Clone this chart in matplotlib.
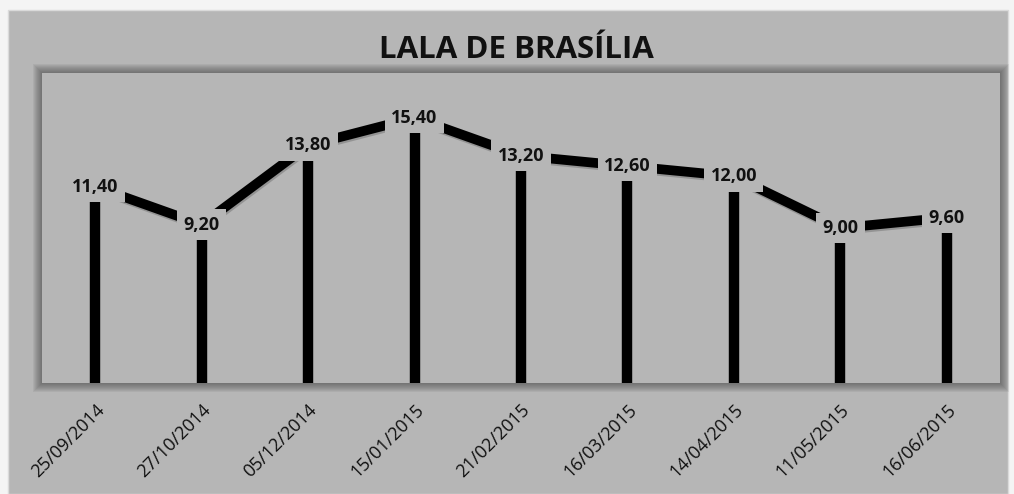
import matplotlib
matplotlib.use('Agg')
import matplotlib.pyplot as plt
from matplotlib.patches import Rectangle

dates = ['25/09/2014', '27/10/2014', '05/12/2014', '15/01/2015', '21/02/2015',
         '16/03/2015', '14/04/2015', '11/05/2015', '16/06/2015']
values = [11.40, 9.20, 13.80, 15.40, 13.20, 12.60, 12.00, 9.00, 9.60]
labels = ['11,40', '9,20', '13,80', '15,40', '13,20', '12,60', '12,00', '9,00', '9,60']

bg = '#B6B6B6'
plt.rcParams['font.family'] = ['Open Sans', 'DejaVu Sans']

fig = plt.figure(figsize=(10.14, 4.94), dpi=100, facecolor='#F4F4F4')

# chart area
fig.patches.append(Rectangle((8 / 1014, 0), 1000 / 1014, 1 - 10 / 494,
                             transform=fig.transFigure, facecolor=bg,
                             edgecolor='#DADADA', lw=1, zorder=0))

l, b, w, h = 42 / 1014, 1 - 383 / 494, 958 / 1014, 310 / 494
# soft shadow round the plot area
for i in range(9, 0, -1):
    px = i / 1014
    py = i / 494
    fig.patches.append(Rectangle((l - px, b - py), w + 2 * px, h + 2 * py,
                                 transform=fig.transFigure, facecolor='#404040',
                                 edgecolor='none', alpha=0.08, zorder=1))

ax = fig.add_axes([l, b, w, h])
ax.set_facecolor(bg)
ax.set_zorder(2)

x = list(range(len(values)))
ax.vlines(x, 0, values, colors='black', lw=7.5, zorder=2)
ax.plot(x, values, color='#606060', lw=7, alpha=0.4, zorder=2.5,
        transform=ax.transData + matplotlib.transforms.ScaledTranslation(1 / 100, -2 / 100, fig.dpi_scale_trans))
ax.plot(x, values, color='black', lw=7, solid_capstyle='butt', zorder=3)

for xi, v, t in zip(x, values, labels):
    ax.text(xi, v, t, ha='center', va='center', fontsize=13, fontweight='bold',
            color='#111111', zorder=4,
            bbox=dict(boxstyle='square,pad=0.35', facecolor=bg, edgecolor='none'))

ax.set_xlim(-0.5, len(values) - 0.5)
ax.set_ylim(0, 18)
ax.set_yticks([])
ax.set_xticks(x)
ax.set_xticklabels(dates, rotation=45, ha='right', rotation_mode='anchor',
                   fontsize=13, color='#111111')
ax.tick_params(axis='x', length=0, pad=13)
for s in ax.spines.values():
    s.set_visible(False)

fig.text(0.509, 1 - 50 / 494, 'LALA DE BRASÍLIA', ha='center', va='center',
         fontsize=22.5, fontweight='bold', color='#111111')

fig.savefig('out.png', dpi=100, facecolor=fig.get_facecolor())
